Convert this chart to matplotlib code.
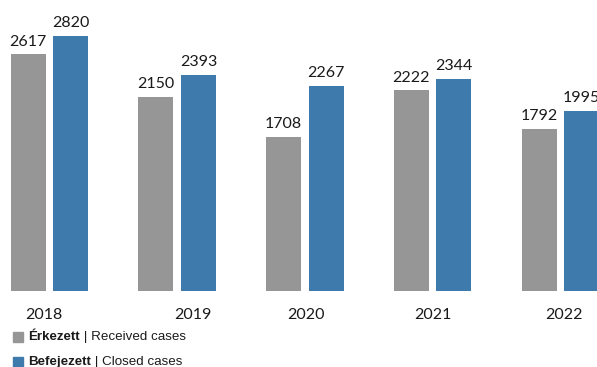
import matplotlib
matplotlib.use("Agg")
import matplotlib.pyplot as plt
import matplotlib.transforms as mtransforms
import numpy as np

years = ["2018", "2019", "2020", "2021", "2022"]
received = [2617, 2150, 1708, 2222, 1792]
closed = [2820, 2393, 2267, 2344, 1995]
legend_bold = ["Érkezett", "Befejezett"]
legend_rest = [" | Received cases", " | Closed cases"]

GRAY = "#969696"
BLUE = "#3E7BAC"
year_shift_px = [-6, 16, 1, 0, 4]

W, H = 597, 367
fig = plt.figure(figsize=(W / 100, H / 100), dpi=100)
ax = fig.add_axes([0, 76 / H, 1, 291 / H])

x = np.arange(len(years))
bw = 35 / 127.7
off = 21.25 / 127.7
b1 = ax.bar(x - off, received, bw, color=GRAY)
b2 = ax.bar(x + off, closed, bw, color=BLUE)

num_font = dict(family=["Lato", "DejaVu Sans"], fontsize=11.5, color="#1a1a1a")
for bars, vals in ((b1, received), (b2, closed)):
    for r, v in zip(bars, vals):
        ax.annotate(str(v), (r.get_x() + r.get_width() / 2, r.get_height()),
                    xytext=(0, 4), textcoords="offset points",
                    ha="center", va="bottom", **num_font)

ax.set_xlim(-49.5 / 127.7, (W - 49.5) / 127.7)
ax.set_ylim(0, 2820 * 291 / 255)
ax.set_xticks([])
ax.set_yticks([])
for s in ax.spines.values():
    s.set_visible(False)

for xi, lab, sh in zip(x, years, year_shift_px):
    ax.annotate(lab, (xi, 0), xytext=(sh * 0.72, -24 * 0.72),
                textcoords="offset points", ha="center", va="center",
                annotation_clip=False, **num_font)

# legend
leg_font = dict(family=["Liberation Sans", "DejaVu Sans"], fontsize=9.6, color="#1a1a1a")
rows_y = [337, 362]
for c, yb, bold, rest in zip([GRAY, BLUE], rows_y, legend_bold, legend_rest):
    fig.patches.append(plt.Rectangle((13 / W, 1 - (yb + 5) / H), 10 / W, 10 / H,
                                     transform=fig.transFigure, color=c))
    t1 = fig.text(28 / W, 1 - yb / H, bold, ha="left", va="center",
                  fontweight="bold", **leg_font)
    ax.annotate(rest, xy=(1, 0.5), xycoords=t1, ha="left", va="center",
                annotation_clip=False, **leg_font)

fig.savefig("out.png", dpi=100)
